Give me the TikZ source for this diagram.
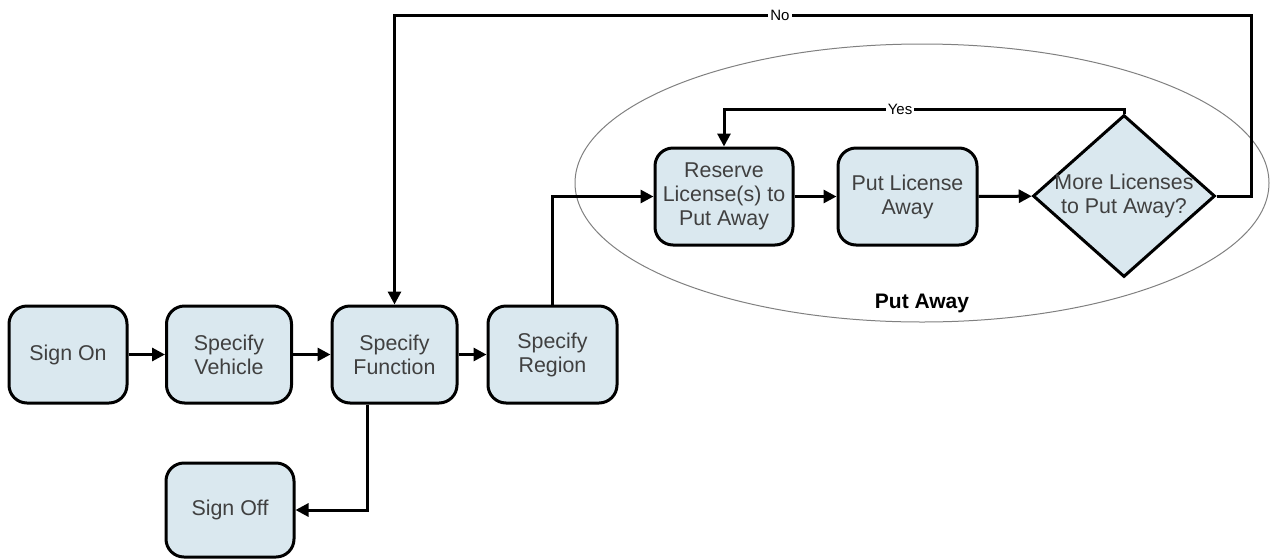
\documentclass[tikz,border=0pt]{standalone}
\usepackage{fontspec}
\setmainfont{Liberation Sans}
\usetikzlibrary{shapes.geometric,arrows.meta}

\definecolor{boxfill}{HTML}{DAE8EF}
\definecolor{boxtext}{HTML}{404040}

\tikzset{
  stepbox/.style={draw, line width=1.5pt, rounded corners=9pt, fill=boxfill,
    text=boxtext, align=center, minimum height=48.5pt,
    font=\fontsize{10.7}{12}\selectfont},
  choice/.style={diamond, draw, line width=1.5pt, fill=boxfill, text=boxtext,
    align=center, inner xsep=-3pt, inner ysep=0pt, aspect=1.12,
    minimum width=91pt, minimum height=81pt,
    font=\fontsize{10.7}{12}\selectfont},
  flow/.style={line width=1.5pt, -{Triangle[length=6.5pt,width=6.5pt]}},
  answer/.style={fill=white, inner sep=1pt, font=\fontsize{7.5}{8}\selectfont}
}

\begin{document}
\begin{tikzpicture}[x=0.5pt, y=-0.5pt]
      \useasboundingbox (0,0) rectangle (1270,558);

      % Put away group
      \draw [gray, line width=0.5pt] (922,183) ellipse [x radius=173.5pt, y radius=69.5pt];
      \node [font=\fontsize{10.5}{12}\bfseries\selectfont] (grouplbl) at (922,303) {Put Away};

      % Main steps
      \node [stepbox, minimum width=59pt] (signon) at (68,354.5) {Sign On};
      \node [stepbox, minimum width=62.5pt] (vehicle) at (229,354.5) {Specify\\Vehicle};
      \node [stepbox, minimum width=62.5pt] (function) at (394.5,354.5) {Specify\\Function};
      \node [stepbox, minimum width=64.5pt] (region) at (552.5,354.5) {Specify\\Region};
      \node [stepbox, minimum width=64pt, minimum height=47pt] (signoff) at (230,510) {Sign Off};

      % Put away steps
      \node [stepbox, minimum width=69pt] (reserve) at (724,196.5) {Reserve\\License(s) to\\Put Away};
      \node [stepbox, minimum width=69.5pt] (putlicense) at (907.5,196.5) {Put License\\Away};
      \node [choice] (more) at (1124,196) {More Licenses\\to Put Away?};

      % Connectors
      \draw [flow] (signon) -- (vehicle);
      \draw [flow] (vehicle) -- (function);
      \draw [flow] (function) -- (region);
      \draw [flow] (region.north) |- (reserve.west);
      \draw [flow] (reserve) -- (putlicense);
      \draw [flow] (putlicense) -- (more);
      \draw [flow] ([xshift=-13.75pt]function.south) |- (signoff.east);

      % Loops back
      \coordinate (yescorner) at (1124,109);
      \coordinate (nocorner) at (1251,15);
      \draw [flow] (more.north) -- (yescorner) -| node [answer, pos=0.28] {Yes} (reserve.north);
      \draw [flow] (more.east) -| (nocorner) -| node [answer, pos=0.275] {No} (function.north);
    \end{tikzpicture}
\end{document}
